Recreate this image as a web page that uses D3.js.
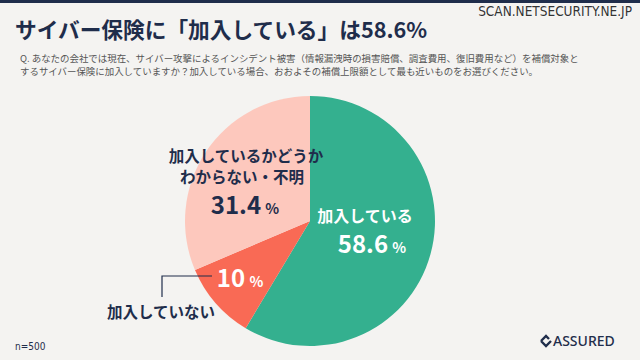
<!DOCTYPE html>
<html>
<head>
<meta charset="utf-8">
<script src="https://cdn.jsdelivr.net/npm/d3@7"></script>
<style>
  body { margin: 0; background: #f4f3f1; }
  svg { display: block; font-family: "Noto Sans CJK JP", "Noto Sans", sans-serif; }
</style>
</head>
<body>
<div id="chart"></div>
<script>
var WIDTH = 640, HEIGHT = 360;
var NAVY = "#1f2d4b";

var categories = ["加入している", "加入していない", "加入しているかどうかわからない・不明"];
var shares = [58.6, 10, 31.4];
var colors = ["#34b08f", "#f96a55", "#fdc8bd"];

var svg = d3.select("#chart")
  .append("svg")
  .attr("width", WIDTH)
  .attr("height", HEIGHT);

svg.append("rect").attr("width", WIDTH).attr("height", HEIGHT).attr("fill", "#f4f3f1");
svg.append("rect").attr("width", WIDTH).attr("height", 3).attr("fill", NAVY);

//header texts
svg.append("text")
  .attr("x", 632).attr("y", 16)
  .attr("text-anchor", "end")
  .attr("font-family", "DejaVu Sans Condensed, sans-serif")
  .attr("font-size", 13.5)
  .attr("fill", "#333")
  .attr("stroke", "#fff").attr("stroke-width", 0.6).attr("paint-order", "stroke")
  .text("SCAN.NETSECURITY.NE.JP");

svg.append("text")
  .attr("x", 15).attr("y", 38)
  .attr("font-size", 21.7)
  .attr("font-weight", "bold")
  .attr("fill", NAVY)
  .text("サイバー保険に「加入している」は58.6%");

var question = [
  "Q. あなたの会社では現在、サイバー攻撃によるインシデント被害（情報漏洩時の損害賠償、調査費用、復旧費用など）を補償対象と",
  "するサイバー保険に加入していますか？加入している場合、おおよその補償上限額として最も近いものをお選びください。"
];
svg.selectAll(".question")
  .data(question)
  .enter()
  .append("text")
  .attr("class", "question")
  .attr("x", 20)
  .attr("y", function(d, i) { return 62 + i * 13 })
  .attr("font-size", 9.45)
  .attr("fill", "#555")
  .text(function(d) { return d });

//pie
var cx = 310, cy = 221, radius = 125;
var pie = d3.pie().sort(null).value(function(d) { return d });
var arc = d3.arc().innerRadius(0).outerRadius(radius);

var slices = svg.append("g")
  .attr("transform", "translate(" + cx + "," + cy + ")");
slices.selectAll("path")
  .data(pie(shares))
  .enter()
  .append("path")
  .attr("d", arc)
  .attr("fill", function(d, i) { return colors[i] });

//percent label with small % sign
function percentLabel(x, y, value, color, size) {
  var t = svg.append("text")
    .attr("x", x).attr("y", y)
    .attr("text-anchor", "middle")
    .attr("font-weight", "bold")
    .attr("fill", color);
  t.append("tspan").attr("font-size", size).text(value);
  t.append("tspan").attr("font-size", size * 0.6).attr("dx", "0.3em").text("%");
}

//joined
svg.append("text")
  .attr("x", 365).attr("y", 222)
  .attr("text-anchor", "middle")
  .attr("font-size", 16).attr("font-weight", "bold")
  .attr("fill", "#fff")
  .text(categories[0]);
percentLabel(372, 253, shares[0], "#fff", 24);

//not joined
percentLabel(240, 287, shares[1], "#fff", 24);
svg.append("path")
  .attr("d", "M212,276 H162 V297")
  .attr("fill", "none")
  .attr("stroke", NAVY)
  .attr("stroke-width", 1.2);
svg.append("text")
  .attr("x", 161).attr("y", 318)
  .attr("text-anchor", "middle")
  .attr("font-size", 15.5).attr("font-weight", "bold")
  .attr("fill", NAVY)
  .text(categories[1]);

//unknown
svg.append("text")
  .attr("x", 246).attr("y", 162)
  .attr("text-anchor", "middle")
  .attr("font-size", 15.5).attr("font-weight", "bold")
  .attr("fill", NAVY)
  .text("加入しているかどうか");
svg.append("text")
  .attr("x", 242).attr("y", 183)
  .attr("text-anchor", "middle")
  .attr("font-size", 15.5).attr("font-weight", "bold")
  .attr("fill", NAVY)
  .text("わからない・不明");
percentLabel(245, 214, shares[2], NAVY, 24);

//footer
svg.append("text")
  .attr("x", 15).attr("y", 350)
  .attr("font-family", "DejaVu Sans Condensed, sans-serif")
  .attr("font-size", 10)
  .attr("fill", NAVY)
  .text("n=500");

var logo = svg.append("g").attr("transform", "translate(541,346)");
logo.append("path")
  .attr("d", "M0,-5 L5,-10 L8,-7 M0,-5 L5,0 L10,-5")
  .attr("fill", "none")
  .attr("stroke", NAVY)
  .attr("stroke-width", 2.4);
logo.append("text")
  .attr("x", 12).attr("y", 0)
  .attr("font-family", "Noto Sans, sans-serif")
  .attr("font-size", 14)
  .attr("font-weight", "500")
  .attr("fill", NAVY)
  .text("ASSURED");
</script>
</body>
</html>
